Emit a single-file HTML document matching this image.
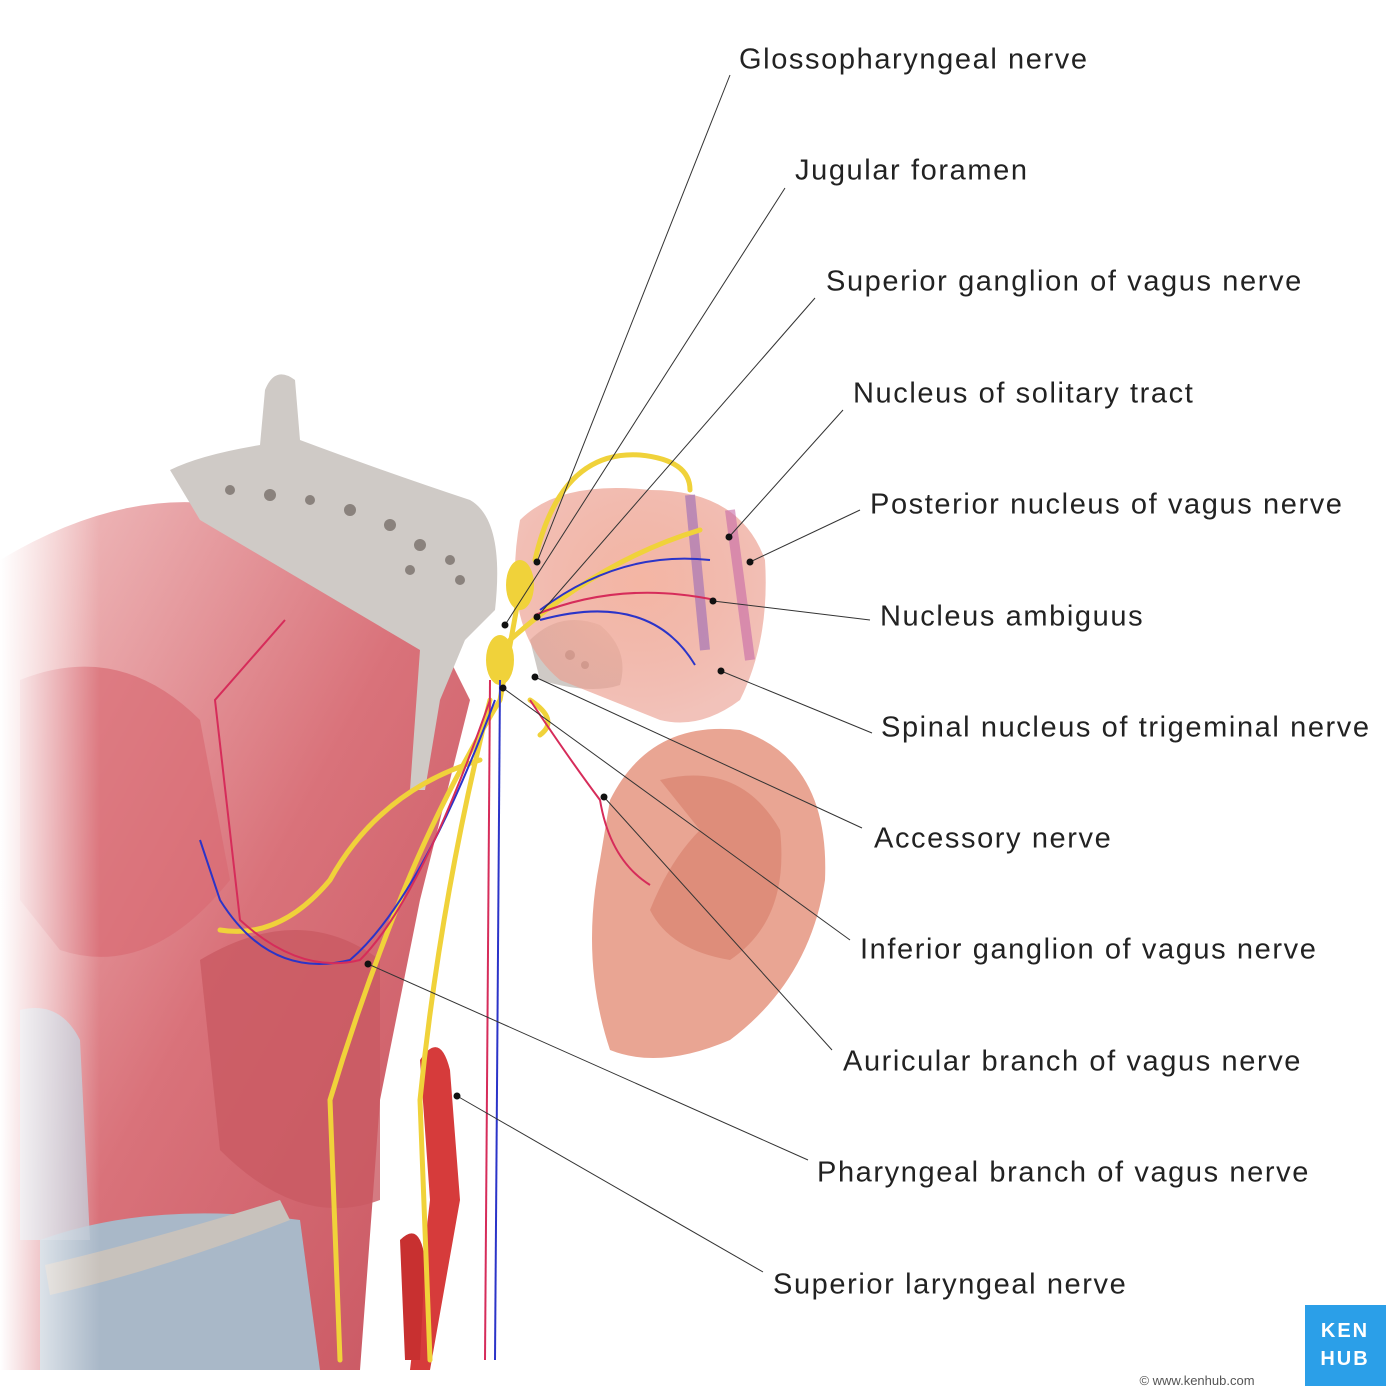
<!DOCTYPE html>
<html><head><meta charset="utf-8"><style>
html,body{margin:0;padding:0;background:#fff;}
svg{display:block;}
text{font-family:"Liberation Sans",sans-serif;font-size:29px;fill:#222;letter-spacing:1.6px;}
</style></head><body>
<svg width="1400" height="1400" viewBox="0 0 1400 1400" xmlns="http://www.w3.org/2000/svg">
<defs>
<linearGradient id="fadeL" x1="0" x2="1" y1="0" y2="0">
<stop offset="0" stop-color="#fff" stop-opacity="1"/><stop offset="0.25" stop-color="#fff" stop-opacity="0"/>
</linearGradient>
<linearGradient id="mus" x1="0" x2="1" y1="0" y2="1">
<stop offset="0" stop-color="#f2c4c4"/><stop offset="0.5" stop-color="#d9727a"/><stop offset="1" stop-color="#c85560"/>
</linearGradient>
<radialGradient id="bs" cx="0.5" cy="0.4" r="0.6">
<stop offset="0" stop-color="#f4b6a4"/><stop offset="1" stop-color="#e99a8c" stop-opacity="0.6"/>
</radialGradient>
<linearGradient id="fadeB" x1="0" x2="0" y1="0" y2="1">
<stop offset="0.8" stop-color="#fff" stop-opacity="0"/><stop offset="1" stop-color="#fff" stop-opacity="1"/>
</linearGradient>
</defs>
<path d="M0 560 Q150 470 280 520 L420 600 L470 700 L420 900 L380 1100 L360 1370 L0 1370 Z" fill="url(#mus)"/>
<path d="M20 680 Q120 640 200 720 L230 880 Q150 980 60 950 L20 900 Z" fill="#d96b74" opacity="0.7"/>
<path d="M200 960 Q300 900 380 960 L380 1200 Q300 1230 220 1150 Z" fill="#c95a63" opacity="0.8"/>
<path d="M40 1240 Q150 1200 300 1220 L320 1370 L40 1370 Z" fill="#a9b8c8"/>
<path d="M45 1265 Q150 1240 280 1200 L290 1220 Q160 1270 50 1295 Z" fill="#c8c2bc"/>
<path d="M20 1010 Q60 1000 80 1040 L90 1240 L20 1240 Z" fill="#b9c3d1" opacity="0.8"/>
<rect x="0" y="400" width="400" height="980" fill="url(#fadeL)"/>
<path d="M170 470 Q200 455 260 445 L265 390 Q275 365 295 380 L300 440 Q380 470 470 500 Q505 520 495 610 L465 640 L440 700 L425 790 L410 790 L420 650 L200 520 Z" fill="#cfcac6"/>
<path d="M530 640 Q560 610 600 625 Q630 650 620 685 Q590 695 540 680 Z" fill="#cfcac6"/>
<g fill="#8a827d">
<circle cx="230" cy="490" r="5"/><circle cx="270" cy="495" r="6"/><circle cx="310" cy="500" r="5"/><circle cx="350" cy="510" r="6"/><circle cx="390" cy="525" r="6"/><circle cx="420" cy="545" r="6"/><circle cx="450" cy="560" r="5"/><circle cx="410" cy="570" r="5"/><circle cx="460" cy="580" r="5"/><circle cx="570" cy="655" r="5"/><circle cx="585" cy="665" r="4"/>
</g>
<path d="M520 520 Q560 480 650 490 Q740 490 765 560 Q770 640 740 700 Q700 730 660 720 L560 680 Q500 630 520 520 Z" fill="url(#bs)"/>
<path d="M690 495 L705 650" stroke="#9a6ab8" stroke-width="10" opacity="0.6"/>
<path d="M730 510 L750 660" stroke="#c76aa8" stroke-width="10" opacity="0.6"/>
<path d="M610 800 Q650 720 740 730 Q830 760 825 880 Q810 980 730 1040 Q660 1070 610 1050 Q580 960 600 860 Z" fill="#e9a593"/>
<path d="M660 780 Q740 760 780 830 Q790 920 730 960 Q670 950 650 910 Q670 860 700 830 Z" fill="#d9836f" opacity="0.7"/>
<path d="M420 1060 Q440 1030 450 1070 L460 1200 L430 1370 L410 1370 L430 1200 Z" fill="#d63b3b"/>
<path d="M400 1240 Q420 1220 425 1260 L420 1360 L405 1360 Z" fill="#c83030"/>
<g fill="none" stroke="#f0d23a" stroke-width="5" stroke-linecap="round">
<path d="M535 560 Q560 450 640 455 Q690 460 690 490"/>
<path d="M520 590 L500 700 Q440 800 400 900 Q360 1000 330 1100 L340 1360"/>
<path d="M510 640 Q600 560 700 530"/>
<path d="M490 700 Q440 900 420 1100 L430 1360"/>
<path d="M480 760 Q380 790 330 880 Q280 940 220 930"/>
<path d="M530 700 Q560 720 540 735"/>
</g>
<ellipse cx="520" cy="585" rx="14" ry="25" fill="#f0d23a"/>
<ellipse cx="500" cy="660" rx="14" ry="25" fill="#f0d23a"/>
<g fill="none" stroke-width="2">
<path d="M540 610 Q620 550 710 560" stroke="#2b34c8"/>
<path d="M540 620 Q650 590 695 665" stroke="#2b34c8"/>
<path d="M535 615 Q620 580 715 600" stroke="#d62c5a"/>
<path d="M500 680 L495 1360" stroke="#2b34c8"/>
<path d="M490 680 L485 1360" stroke="#d62c5a"/>
<path d="M495 700 Q420 900 350 960 Q270 980 220 900 L200 840" stroke="#2b34c8"/>
<path d="M490 700 Q420 900 360 960 Q300 975 240 920 L215 700 L285 620" stroke="#d62c5a"/>
<path d="M530 700 Q570 760 600 800 Q610 860 650 885" stroke="#d62c5a"/>
</g>
<rect x="0" y="1250" width="1400" height="150" fill="url(#fadeB)"/>
<g stroke="#333" stroke-width="1" fill="none">
<path d="M730 75 L537 562"/><path d="M785 188 L505 625"/><path d="M815 298 L537 617"/>
<path d="M843 410 L729 537"/><path d="M860 510 L750 562"/><path d="M870 620 L713 601"/>
<path d="M872 733 L721 671"/><path d="M862 828 L535 677"/><path d="M850 940 L503 688"/>
<path d="M832 1050 L604 797"/><path d="M808 1160 L368 964"/><path d="M763 1272 L457 1096"/>
</g>
<g fill="#111">
<circle cx="537" cy="562" r="3.5"/><circle cx="505" cy="625" r="3.5"/><circle cx="537" cy="617" r="3.5"/>
<circle cx="729" cy="537" r="3.5"/><circle cx="750" cy="562" r="3.5"/><circle cx="713" cy="601" r="3.5"/>
<circle cx="721" cy="671" r="3.5"/><circle cx="535" cy="677" r="3.5"/><circle cx="503" cy="688" r="3.5"/>
<circle cx="604" cy="797" r="3.5"/><circle cx="368" cy="964" r="3.5"/><circle cx="457" cy="1096" r="3.5"/>
</g>
<g dominant-baseline="middle">
<text x="739" y="61">Glossopharyngeal nerve</text>
<text x="795" y="172">Jugular foramen</text>
<text x="826" y="283">Superior ganglion of vagus nerve</text>
<text x="853" y="395">Nucleus of solitary tract</text>
<text x="870" y="506">Posterior nucleus of vagus nerve</text>
<text x="880" y="618">Nucleus ambiguus</text>
<text x="881" y="729">Spinal nucleus of trigeminal nerve</text>
<text x="874" y="840">Accessory nerve</text>
<text x="860" y="951">Inferior ganglion of vagus nerve</text>
<text x="843" y="1063">Auricular branch of vagus nerve</text>
<text x="817" y="1174">Pharyngeal branch of vagus nerve</text>
<text x="773" y="1286">Superior laryngeal nerve</text>
</g>
<rect x="1305" y="1305" width="81" height="81" fill="#2b9fe8"/>
<text x="1345" y="1337" text-anchor="middle" style="fill:#fff;font-size:20px;font-weight:bold;letter-spacing:2px">KEN</text>
<text x="1345" y="1365" text-anchor="middle" style="fill:#fff;font-size:20px;font-weight:bold;letter-spacing:2px">HUB</text>
<text x="1197" y="1385" text-anchor="middle" style="font-size:13px;fill:#555;letter-spacing:0">© www.kenhub.com</text>
</svg>
</body></html>
